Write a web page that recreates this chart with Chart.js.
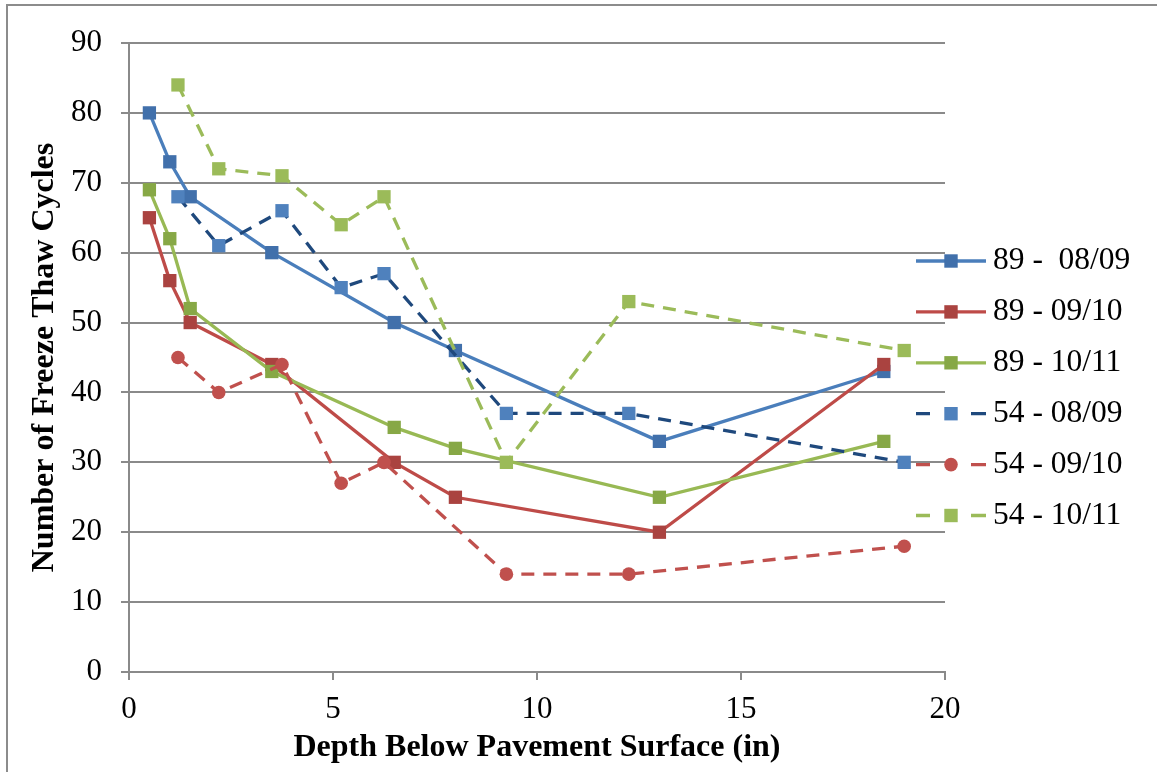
<!DOCTYPE html>
<html>
<head>
<meta charset="utf-8">
<script src="https://cdn.jsdelivr.net/npm/chart.js@4.4.1/dist/chart.umd.min.js"></script>
<style>
  html,body{margin:0;padding:0;background:#fff;}
  #chart{display:block;}
</style>
</head>
<body>
<canvas id="chart" width="1157" height="772"></canvas>
<script>
const depth89 = [0.5, 1.0, 1.5, 3.5, 6.5, 8, 13, 18.5];
const depth54 = [1.2, 2.2, 3.75, 5.2, 6.25, 9.25, 12.25, 19];

const s89_0809 = [80, 73, 68, 60, 50, 46, 33, 43];
const s89_0910 = [65, 56, 50, 44, 30, 25, 20, 44];
const s89_1011 = [69, 62, 52, 43, 35, 32, 25, 33];
const s54_0809 = [68, 61, 66, 55, 57, 37, 37, 30];
const s54_0910 = [45, 40, 44, 27, 30, 14, 14, 18];
const s54_1011 = [84, 72, 71, 64, 68, 30, 53, 46];

const seriesNames = ['89 -  08/09','89 - 09/10','89 - 10/11','54 - 08/09','54 - 09/10','54 - 10/11'];
const xTicks = [0, 5, 10, 15, 20];
const yTicks = [0, 10, 20, 30, 40, 50, 60, 70, 80, 90];

const FONT = "'Liberation Serif', 'Times New Roman', serif";
const GRID = '#8a8a8a';

function pts(xs, ys){ return xs.map((x,i)=>({x:x, y:ys[i]})); }

function mk(i, xs, ys, line, mark, dashed, style){
  return {
    label: seriesNames[i],
    data: pts(xs, ys),
    showLine: true,
    borderColor: line,
    borderWidth: 3.3,
    borderDash: dashed ? [13, 9] : [],
    backgroundColor: mark,
    pointBackgroundColor: mark,
    pointBorderColor: mark,
    pointBorderWidth: 0,
    pointStyle: style,
    pointRadius: style==='circle' ? 6.8 : 9.4,
    pointHoverRadius: style==='circle' ? 6.8 : 9.4,
    order: 6 - i,
    _dashed: dashed
  };
}

const datasets = [
  mk(0, depth89, s89_0809, '#4a7ebb', '#4170ab', false, 'rect'),
  mk(1, depth89, s89_0910, '#be4b48', '#aa4340', false, 'rect'),
  mk(2, depth89, s89_1011, '#98b954', '#87a846', false, 'rect'),
  mk(3, depth54, s54_0809, '#1f497d', '#4f81bd', true, 'rect'),
  mk(4, depth54, s54_0910, '#c0504d', '#c0504d', true, 'circle'),
  mk(5, depth54, s54_1011, '#9bbb59', '#9bbb59', true, 'rect')
];

// outer frame of the chart object
const framePlugin = {
  id: 'frame',
  beforeDraw(chart){
    const c = chart.ctx;
    c.save();
    c.fillStyle = '#fff';
    c.fillRect(0, 0, chart.width, chart.height);
    c.strokeStyle = '#8c8c8c';
    c.lineWidth = 2;
    c.beginPath();
    c.moveTo(7, chart.height);
    c.lineTo(7, 5);
    c.lineTo(chart.width, 5);
    c.stroke();
    c.restore();
  }
};

// legend on the right, line + marker samples like the original
const legendPlugin = {
  id: 'sideLegend',
  afterDraw(chart){
    const c = chart.ctx;
    const x0 = 916, x1 = 986, xm = 951, tx = 993;
    chart.data.datasets.forEach((ds, i)=>{
      const y = 261 + i*50.9;
      c.save();
      c.strokeStyle = ds.borderColor;
      c.lineWidth = 3.3;
      c.beginPath();
      if (ds._dashed){
        c.moveTo(x0, y); c.lineTo(x0+14, y);
        c.moveTo(x1-15, y); c.lineTo(x1, y);
      } else {
        c.moveTo(x0, y); c.lineTo(x1, y);
      }
      c.stroke();
      c.fillStyle = ds.pointBackgroundColor;
      if (ds.pointStyle === 'circle'){
        c.beginPath(); c.arc(xm, y, 6.8, 0, Math.PI*2); c.fill();
      } else {
        c.fillRect(xm-6.7, y-6.7, 13.4, 13.4);
      }
      c.fillStyle = '#000';
      c.font = '31.5px ' + FONT;
      c.textBaseline = 'middle';
      c.textAlign = 'left';
      c.fillText(ds.label, tx, y);
      c.restore();
    });
  }
};

Chart.defaults.color = '#000';
Chart.defaults.font.family = FONT;

new Chart(document.getElementById('chart'), {
  type: 'scatter',
  data: { datasets },
  options: {
    responsive: false,
    animation: false,
    layout: { padding: { left: 0, top: 43, right: 212, bottom: 0 } },
    plugins: { legend: { display: false }, tooltip: { enabled: false } },
    scales: {
      x: {
        type: 'linear', min: 0, max: 20,
        afterFit(s){ s.height = 100; },
        afterBuildTicks(s){ s.ticks = xTicks.map(v=>({value:v})); },
        ticks: { font: { size: 31 }, padding: 11, color: '#000' },
        grid: { drawOnChartArea: false, drawTicks: true, tickLength: 8, color: GRID, lineWidth: 2 },
        border: { display: true, color: GRID, width: 2 },
        title: { display: true, text: 'Depth Below Pavement Surface (in)', font: { size: 32, weight: 'bold' }, padding: { top: 0, bottom: 5 }, color: '#000' }
      },
      y: {
        type: 'linear', min: 0, max: 90,
        afterFit(s){ s.width = 129; },
        afterBuildTicks(s){ s.ticks = yTicks.map(v=>({value:v})); },
        ticks: { font: { size: 31 }, padding: 19, color: '#000' },
        grid: { color: GRID, lineWidth: 2, tickLength: 8, drawTicks: true },
        border: { display: true, color: GRID, width: 2 },
        title: { display: true, text: 'Number of Freeze Thaw Cycles', font: { size: 32, weight: 'bold' }, padding: { top: 26, bottom: 0 }, color: '#000' }
      }
    }
  },
  plugins: [framePlugin, legendPlugin]
});
</script>
</body>
</html>
